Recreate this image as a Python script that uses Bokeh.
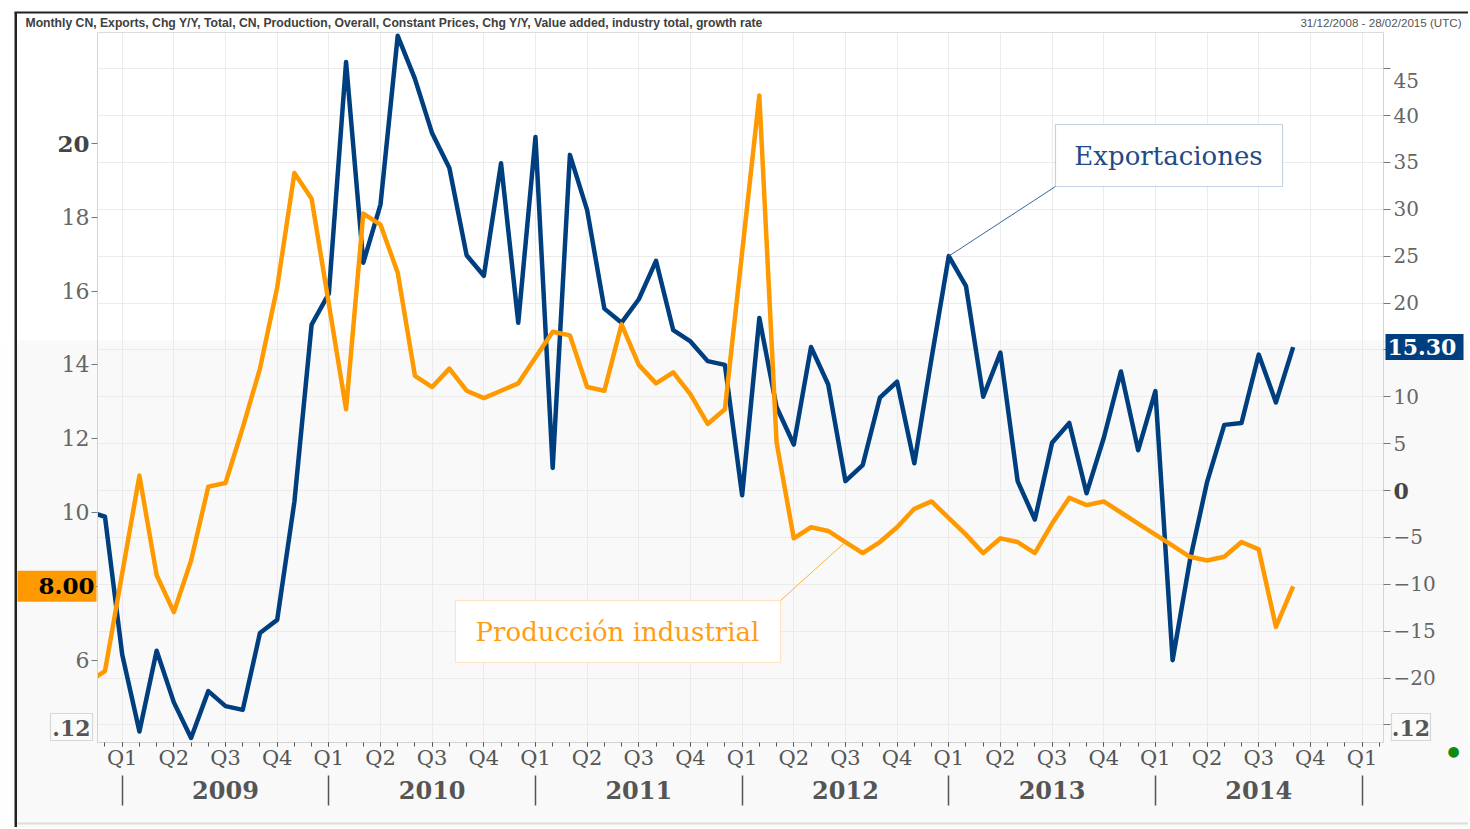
from bokeh.plotting import figure
from bokeh.models import Range1d, LinearAxis, FixedTicker, Label, BoxAnnotation, Grid
from bokeh.embed import file_html
from bokeh.resources import INLINE

# ---------------- data (monthly, starting Nov 2008) ----------------
first_year, first_month = 2008, 11
# China exports, % y/y (right axis)
exports = [-2.2, -2.8,
           -17.5, -25.7, -17.1, -22.6, -26.4, -21.4, -23.0, -23.4, -15.2, -13.8, -1.2, 17.7,
           21.0, 45.7, 24.3, 30.5, 48.5, 43.9, 38.1, 34.4, 25.1, 22.9, 34.9, 17.9,
           37.7, 2.4, 35.8, 29.9, 19.4, 17.9, 20.4, 24.5, 17.1, 15.9, 13.8, 13.4,
           -0.5, 18.4, 8.9, 4.9, 15.3, 11.3, 1.0, 2.7, 9.9, 11.6, 2.9, 14.1,
           25.0, 21.8, 10.0, 14.7, 1.0, -3.1, 5.1, 7.2, -0.3, 5.6, 12.7, 4.3,
           10.6, -18.1, -7.5, 0.9, 7.0, 7.2, 14.5, 9.4, 15.3]
# China industrial production, % y/y (left axis); January not published
production = [5.4, 5.7,
              None, 11.0, 8.3, 7.3, 8.7, 10.7, 10.8, 12.3, 13.9, 16.1, 19.2, 18.5,
              None, 12.8, 18.1, 17.8, 16.5, 13.7, 13.4, 13.9, 13.3, 13.1, 13.3, 13.5,
              None, 14.9, 14.8, 13.4, 13.3, 15.1, 14.0, 13.5, 13.8, 13.2, 12.4, 12.8,
              None, 21.3, 11.9, 9.3, 9.6, 9.5, 9.2, 8.9, 9.2, 9.6, 10.1, 10.3,
              None, 9.4, 8.9, 9.3, 9.2, 8.9, 9.7, 10.4, 10.2, 10.3, 10.0, 9.7,
              None, 9.1, 8.8, 8.7, 8.8, 9.2, 9.0, 6.9, 8.0]
quarter_names = ["Q1", "Q2", "Q3", "Q4"]
year_names = ["2009", "2010", "2011", "2012", "2013", "2014"]
left_ticks = [6, 8, 10, 12, 14, 16, 18, 20]
right_ticks = [-25, -20, -15, -10, -5, 0, 5, 10, 15, 20, 25, 30, 35, 40, 45]
header_left = ("Monthly CN, Exports, Chg Y/Y, Total, CN, Production, Overall, Constant Prices, "
               "Chg Y/Y, Value added, industry total, growth rate")
header_right = "31/12/2008 - 28/02/2015 (UTC)"
exp_name = "Exportaciones"
prod_name = "Producción industrial"

BLUE = "#003F7F"
ORANGE = "#FF9900"
SERIF = "DejaVu Serif"
LOWBG = "#f9f9f9"

# month index: 0 = January 2009
start_idx = (first_year - 2009) * 12 + (first_month - 1)
mx = [start_idx + i for i in range(len(exports))]
prod_x = [mx[i] for i, v in enumerate(production) if v is not None]
prod_y = [v for v in production if v is not None]

# ---------------- layout helpers (page pixels -> data units) ----------------
X0_PX, PX_MONTH = 121.7, 17.22          # Q1 2009 position, px per month
L10_PX, PX_UNIT_L = 512.0, 36.9         # left axis: value 10 position, px per unit
R0_PX, PX_UNIT_R = 490.0, 9.375         # right axis: value 0 position, px per unit
def px2x(px): return (px - X0_PX) / PX_MONTH
def py2l(py): return 10 - (py - L10_PX) / PX_UNIT_L
def py2r(py): return (R0_PX - py) / PX_UNIT_R

PL, PR, PT, PB = 97, 1383, 32, 742      # plot area in page pixels
CX0, CY0, W, H = 0, 0, 1468, 827        # canvas in page pixels
BAND = 340                              # start of the light lower band

p = figure(width=W, height=H, output_backend="svg", toolbar_location=None,
           x_range=Range1d(px2x(CX0), px2x(CX0 + W)), y_range=Range1d(py2l(CY0 + H), py2l(CY0)),
           x_axis_type=None, y_axis_type=None,
           min_border=0, min_border_left=0, min_border_right=0, min_border_top=0, min_border_bottom=0,
           background_fill_color="white", border_fill_color="white", outline_line_color=None)
p.extra_y_ranges = {"right": Range1d(py2r(CY0 + H), py2r(CY0))}

# faint lower band
p.add_layout(BoxAnnotation(left=px2x(16), top=py2l(BAND), fill_color=LOWBG, fill_alpha=1,
                           line_color=None, level="underlay"))

# grids
quarters = list(range(0, 75, 3))
p.add_layout(Grid(dimension=0, ticker=FixedTicker(ticks=quarters), grid_line_color="#ebebeb"))
p.add_layout(Grid(dimension=1, ticker=FixedTicker(ticks=right_ticks), y_range_name="right",
                  grid_line_color="#ebebeb"))

# series
p.line(mx, exports, y_range_name="right", line_color=BLUE, line_width=4.5, line_join="round")
p.line(prod_x, prod_y, line_color=ORANGE, line_width=4.5, line_join="round")

# leader lines of the callouts
i_exp = mx.index(48)
p.segment(x0=[px2x(1055)], y0=[py2r(186)], x1=[mx[i_exp]], y1=[exports[i_exp]],
          y_range_name="right", line_color="#3A66A0", line_width=1)
i_prod = prod_x.index(42)
p.segment(x0=[px2x(780)], y0=[py2l(600)], x1=[prod_x[i_prod]], y1=[prod_y[i_prod]],
          line_color="#FFB040", line_width=1)

# masks around the plot area (keep series and grid inside it)
X_A, X_B, X_C, X_D = px2x(CX0 - 2), px2x(PL), px2x(PR), px2x(CX0 + W + 2)
Y_BOT, Y_PB, Y_BAND, Y_PT, Y_TOP = py2l(CY0 + H + 2), py2l(PB), py2l(BAND), py2l(PT), py2l(CY0 - 2)
p.quad(left=[X_A, X_A, X_C, X_C, X_B, X_B],
       right=[X_B, X_B, X_D, X_D, X_C, X_C],
       bottom=[Y_BAND, Y_BOT, Y_BAND, Y_BOT, Y_PT, Y_BOT],
       top=[Y_TOP, Y_BAND, Y_TOP, Y_BAND, Y_TOP, Y_PB],
       fill_color=["white", LOWBG, "white", LOWBG, "white", LOWBG], line_color=None)
# white strip left of the outer frame line
p.add_layout(BoxAnnotation(right=px2x(14), fill_color="white", fill_alpha=1, line_color=None, level="guide"))

# ---------------- axes (drawn at fixed positions around the plot area) ----------------
def style(ax, size, color="#666666", bold=False):
    ax.major_label_text_font = SERIF
    ax.major_label_text_font_size = size
    ax.major_label_text_color = color
    ax.major_label_text_font_style = "bold" if bold else "normal"
    ax.minor_tick_line_color = None

la = LinearAxis(fixed_location=px2x(PL), ticker=FixedTicker(ticks=left_ticks),
                bounds=(py2l(PB), py2l(PT)), major_label_overrides={20: " "})
style(la, "22px")
la.axis_line_color = "#d4d4d4"
la.major_tick_out, la.major_tick_in = 6, 0
la.major_tick_line_color = "#777777"
la.major_label_standoff = 2
p.add_layout(la, "left")

ra = LinearAxis(y_range_name="right", fixed_location=px2x(PR), ticker=FixedTicker(ticks=right_ticks),
                bounds=(py2r(PB), py2r(PT)), major_label_overrides={-25: " ", 0: " ", 45: " "})
style(ra, "20px")
ra.axis_line_color = "#d4d4d4"
ra.major_tick_out, ra.major_tick_in = 7, 0
ra.major_tick_line_color = "#777777"
ra.major_label_standoff = 3
p.add_layout(ra, "right")

# top edge of the plot area
ta = LinearAxis(fixed_location=py2l(PT), ticker=FixedTicker(ticks=[]), bounds=(px2x(PL), px2x(PR)))
ta.axis_line_color = "#dcdcdc"
ta.major_tick_line_color = None
ta.minor_tick_line_color = None
p.add_layout(ta, "above")

q_over = {q: quarter_names[(q // 3) % 4] for q in quarters}
qa = LinearAxis(fixed_location=py2l(PB), bounds=(px2x(PL), px2x(PR)),
                ticker=FixedTicker(ticks=quarters, minor_ticks=list(range(-1, 74))),
                major_label_overrides=q_over)
style(qa, "21px", "#555555")
qa.axis_line_color = "#d4d4d4"
qa.major_tick_out, qa.major_tick_in = 4, 0
qa.minor_tick_out, qa.minor_tick_in = 4, 0
qa.major_tick_line_color = "#555555"
qa.minor_tick_line_color = "#555555"
qa.major_label_standoff = -1
p.add_layout(qa, "below")

mids = [6 + 12 * i for i in range(len(year_names))]
yax = LinearAxis(fixed_location=py2l(775), bounds=(px2x(PL), px2x(PR)),
                 ticker=FixedTicker(ticks=mids, minor_ticks=[12 * i for i in range(len(year_names) + 1)]),
                 major_label_overrides={m: year_names[i] for i, m in enumerate(mids)})
style(yax, "24px", "#555555", bold=True)
yax.axis_line_color = None
yax.major_tick_line_color = None
yax.major_tick_out, yax.major_tick_in = 0, 0
yax.minor_tick_out, yax.minor_tick_in = 30, 0
yax.minor_tick_line_color = "#555555"
yax.minor_tick_line_width = 1.5
yax.major_label_standoff = -25
p.add_layout(yax, "below")

# ---------------- callouts ----------------
p.add_layout(BoxAnnotation(left=px2x(1055), right=px2x(1282), top=py2l(124), bottom=py2l(186),
                           fill_color="white", fill_alpha=1, line_color="#3A66A0", line_width=1.2))
p.add_layout(Label(x=px2x(1168), y=py2l(155), text=exp_name, text_align="center", text_baseline="middle",
                   text_font=SERIF, text_font_size="26px", text_color="#1F4B87"))
p.add_layout(BoxAnnotation(left=px2x(455), right=px2x(780), top=py2l(600), bottom=py2l(662),
                           fill_color="white", fill_alpha=1, line_color="#FFB040", line_width=1.2))
p.add_layout(Label(x=px2x(617), y=py2l(631), text=prod_name, text_align="center", text_baseline="middle",
                   text_font=SERIF, text_font_size="26px", text_color="#FF9D14"))

# ---------------- special axis labels ----------------
p.add_layout(Label(x=px2x(PL - 8), y=20, text="20", text_align="right", text_baseline="middle",
                   text_font=SERIF, text_font_size="23px", text_font_style="bold", text_color="#444444"))
p.add_layout(Label(x=px2x(PR + 10), y=0, y_range_name="right", text="0", text_align="left",
                   text_baseline="middle", text_font=SERIF, text_font_size="22px", text_font_style="bold",
                   text_color="#444444"))
p.add_layout(Label(x=px2x(PR + 10), y=py2r(80), y_range_name="right", text="45", text_align="left",
                   text_baseline="middle", text_font=SERIF, text_font_size="20px", text_color="#666666"))

# last-value markers
half_l = 15.5 / PX_UNIT_L
p.add_layout(BoxAnnotation(left=px2x(17), right=px2x(96), bottom=prod_y[-1] - half_l, top=prod_y[-1] + half_l,
                           fill_color=ORANGE, fill_alpha=1, line_color=None))
p.add_layout(Label(x=px2x(94), y=prod_y[-1], text="%.2f" % prod_y[-1], text_align="right",
                   text_baseline="middle", text_font=SERIF, text_font_size="23px", text_font_style="bold",
                   text_color="black"))
half_r = 13 / PX_UNIT_R
p.add_layout(BoxAnnotation(left=px2x(1385), right=px2x(1463), bottom=exports[-1] - half_r,
                           top=exports[-1] + half_r, y_range_name="right",
                           fill_color=BLUE, fill_alpha=1, line_color=None))
p.add_layout(Label(x=px2x(1387), y=exports[-1], y_range_name="right", text="%.2f" % exports[-1],
                   text_align="left", text_baseline="middle", text_font=SERIF, text_font_size="22px",
                   text_font_style="bold", text_color="white"))

# truncated ".12" boxes at the bottom of both scales
for bl, br in ((50, 92), (1391, 1430)):
    p.add_layout(BoxAnnotation(left=px2x(bl), right=px2x(br), top=py2l(713), bottom=py2l(740),
                               fill_color="#fafafa", fill_alpha=1, line_color="#888888", line_width=1.2))
    p.add_layout(Label(x=px2x((bl + br) / 2), y=py2l(727), text=".12", text_align="center",
                       text_baseline="middle", text_font=SERIF, text_font_size="22px",
                       text_font_style="bold", text_color="#555555"))

# header
p.add_layout(Label(x=px2x(25), y=py2l(22), text=header_left, text_align="left", text_baseline="middle",
                   text_font="Liberation Sans", text_font_size="12.2px", text_font_style="bold",
                   text_color="#404040"))
p.add_layout(Label(x=px2x(1461), y=py2l(22), text=header_right, text_align="right", text_baseline="middle",
                   text_font="Liberation Sans", text_font_size="11.6px", text_color="#555555"))

# status dot
p.add_layout(Label(x=px2x(1453), y=py2l(750), text="●", text_align="center", text_baseline="middle",
                   text_font="DejaVu Sans", text_font_size="14px", text_color="#0F8A0F"))

# outer frame lines (left, top, bottom)
p.add_layout(BoxAnnotation(left=px2x(14), right=px2x(16.5), top=py2l(12), fill_color="#222222",
                           fill_alpha=1, line_color=None))
p.add_layout(BoxAnnotation(left=px2x(14), top=py2l(11), bottom=py2l(13), fill_color="#222222",
                           fill_alpha=1, line_color=None))
p.add_layout(BoxAnnotation(left=px2x(16.5), top=py2l(822), bottom=py2l(824), fill_color="#dddddd",
                           fill_alpha=1, line_color=None))

open("out.html", "w").write(file_html(p, INLINE))
